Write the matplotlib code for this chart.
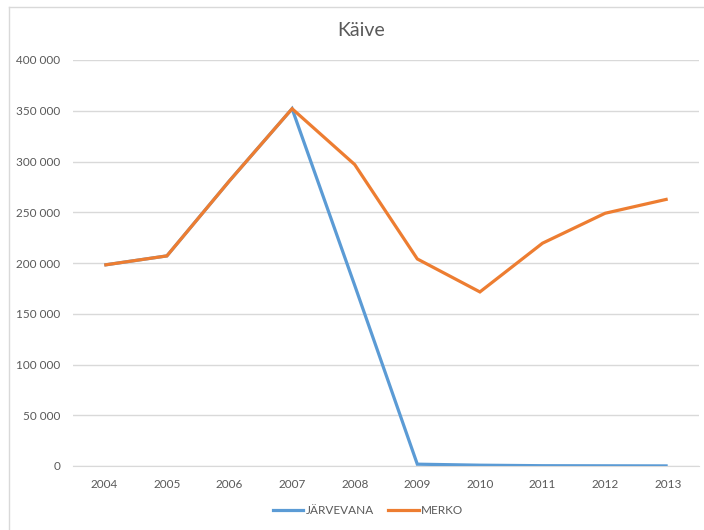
import matplotlib
matplotlib.use("Agg")
import matplotlib.pyplot as plt
from matplotlib.lines import Line2D
from matplotlib.ticker import FuncFormatter

years = [2004, 2005, 2006, 2007, 2008, 2009, 2010, 2011, 2012, 2013]
jarvevana = [198000, 207000, 281000, 352000, 178000, 1800, 800, 300, 200, 100]
merko = [198000, 207000, 281000, 352000, 297000, 204000, 171500, 219500, 249000, 263000]
series_names = ["JÄRVEVANA", "MERKO"]
title = "Käive"
yticks = [0, 50000, 100000, 150000, 200000, 250000, 300000, 350000, 400000]

plt.rcParams['font.family'] = ['Lato', 'DejaVu Sans']
W, H = 704, 530
fig = plt.figure(figsize=(W / 100, H / 100), dpi=100)
fig.patch.set_facecolor("white")

# chart border (top/left visible)
fig.add_artist(Line2D([9 / W, 9 / W], [0, 1 - 7 / H], color="#D9D9D9", lw=1))
fig.add_artist(Line2D([9 / W, 1], [1 - 7 / H, 1 - 7 / H], color="#D9D9D9", lw=1))

ax = fig.add_axes([73 / W, 1 - 466 / H, (699 - 73) / W, (466 - 60) / H])
blue = "#5B9BD5"
orange = "#ED7D31"
ax.plot(years, jarvevana, color=blue, lw=2.3, solid_capstyle="butt", solid_joinstyle="miter", zorder=3)
ax.plot(years, merko, color=orange, lw=2.3, solid_capstyle="butt", solid_joinstyle="miter", zorder=4)

ax.set_xlim(years[0] - 0.5, years[-1] + 0.5)
ax.set_ylim(0, 400000)
ax.set_yticks(yticks)
ax.yaxis.set_major_formatter(FuncFormatter(lambda v, p: f"{int(v):,}".replace(",", " ")))
ax.set_xticks(years)
ax.set_xticklabels([str(y) for y in years])
ax.grid(axis="y", color="#D9D9D9", lw=1)
ax.set_axisbelow(True)
for s in ["top", "right", "left"]:
    ax.spines[s].set_visible(False)
ax.spines["bottom"].set_color("#D9D9D9")
ax.tick_params(axis="both", length=0, labelsize=8.5, colors="#595959")
ax.tick_params(axis="y", pad=9)
ax.tick_params(axis="x", pad=9)

fig.text(361 / W, 1 - 31 / H, title, ha="center", va="center", fontsize=14, color="#595959")

handles = [Line2D([], [], color=blue, lw=2.3), Line2D([], [], color=orange, lw=2.3)]
fig.legend(handles, series_names, loc="center", bbox_to_anchor=(368 / W, 1 - 511 / H), ncol=2,
           frameon=False, fontsize=8.5, labelcolor="#595959", handlelength=2.6,
           handletextpad=0.2, columnspacing=1.2)

fig.savefig("out.png", dpi=100, facecolor="white")
